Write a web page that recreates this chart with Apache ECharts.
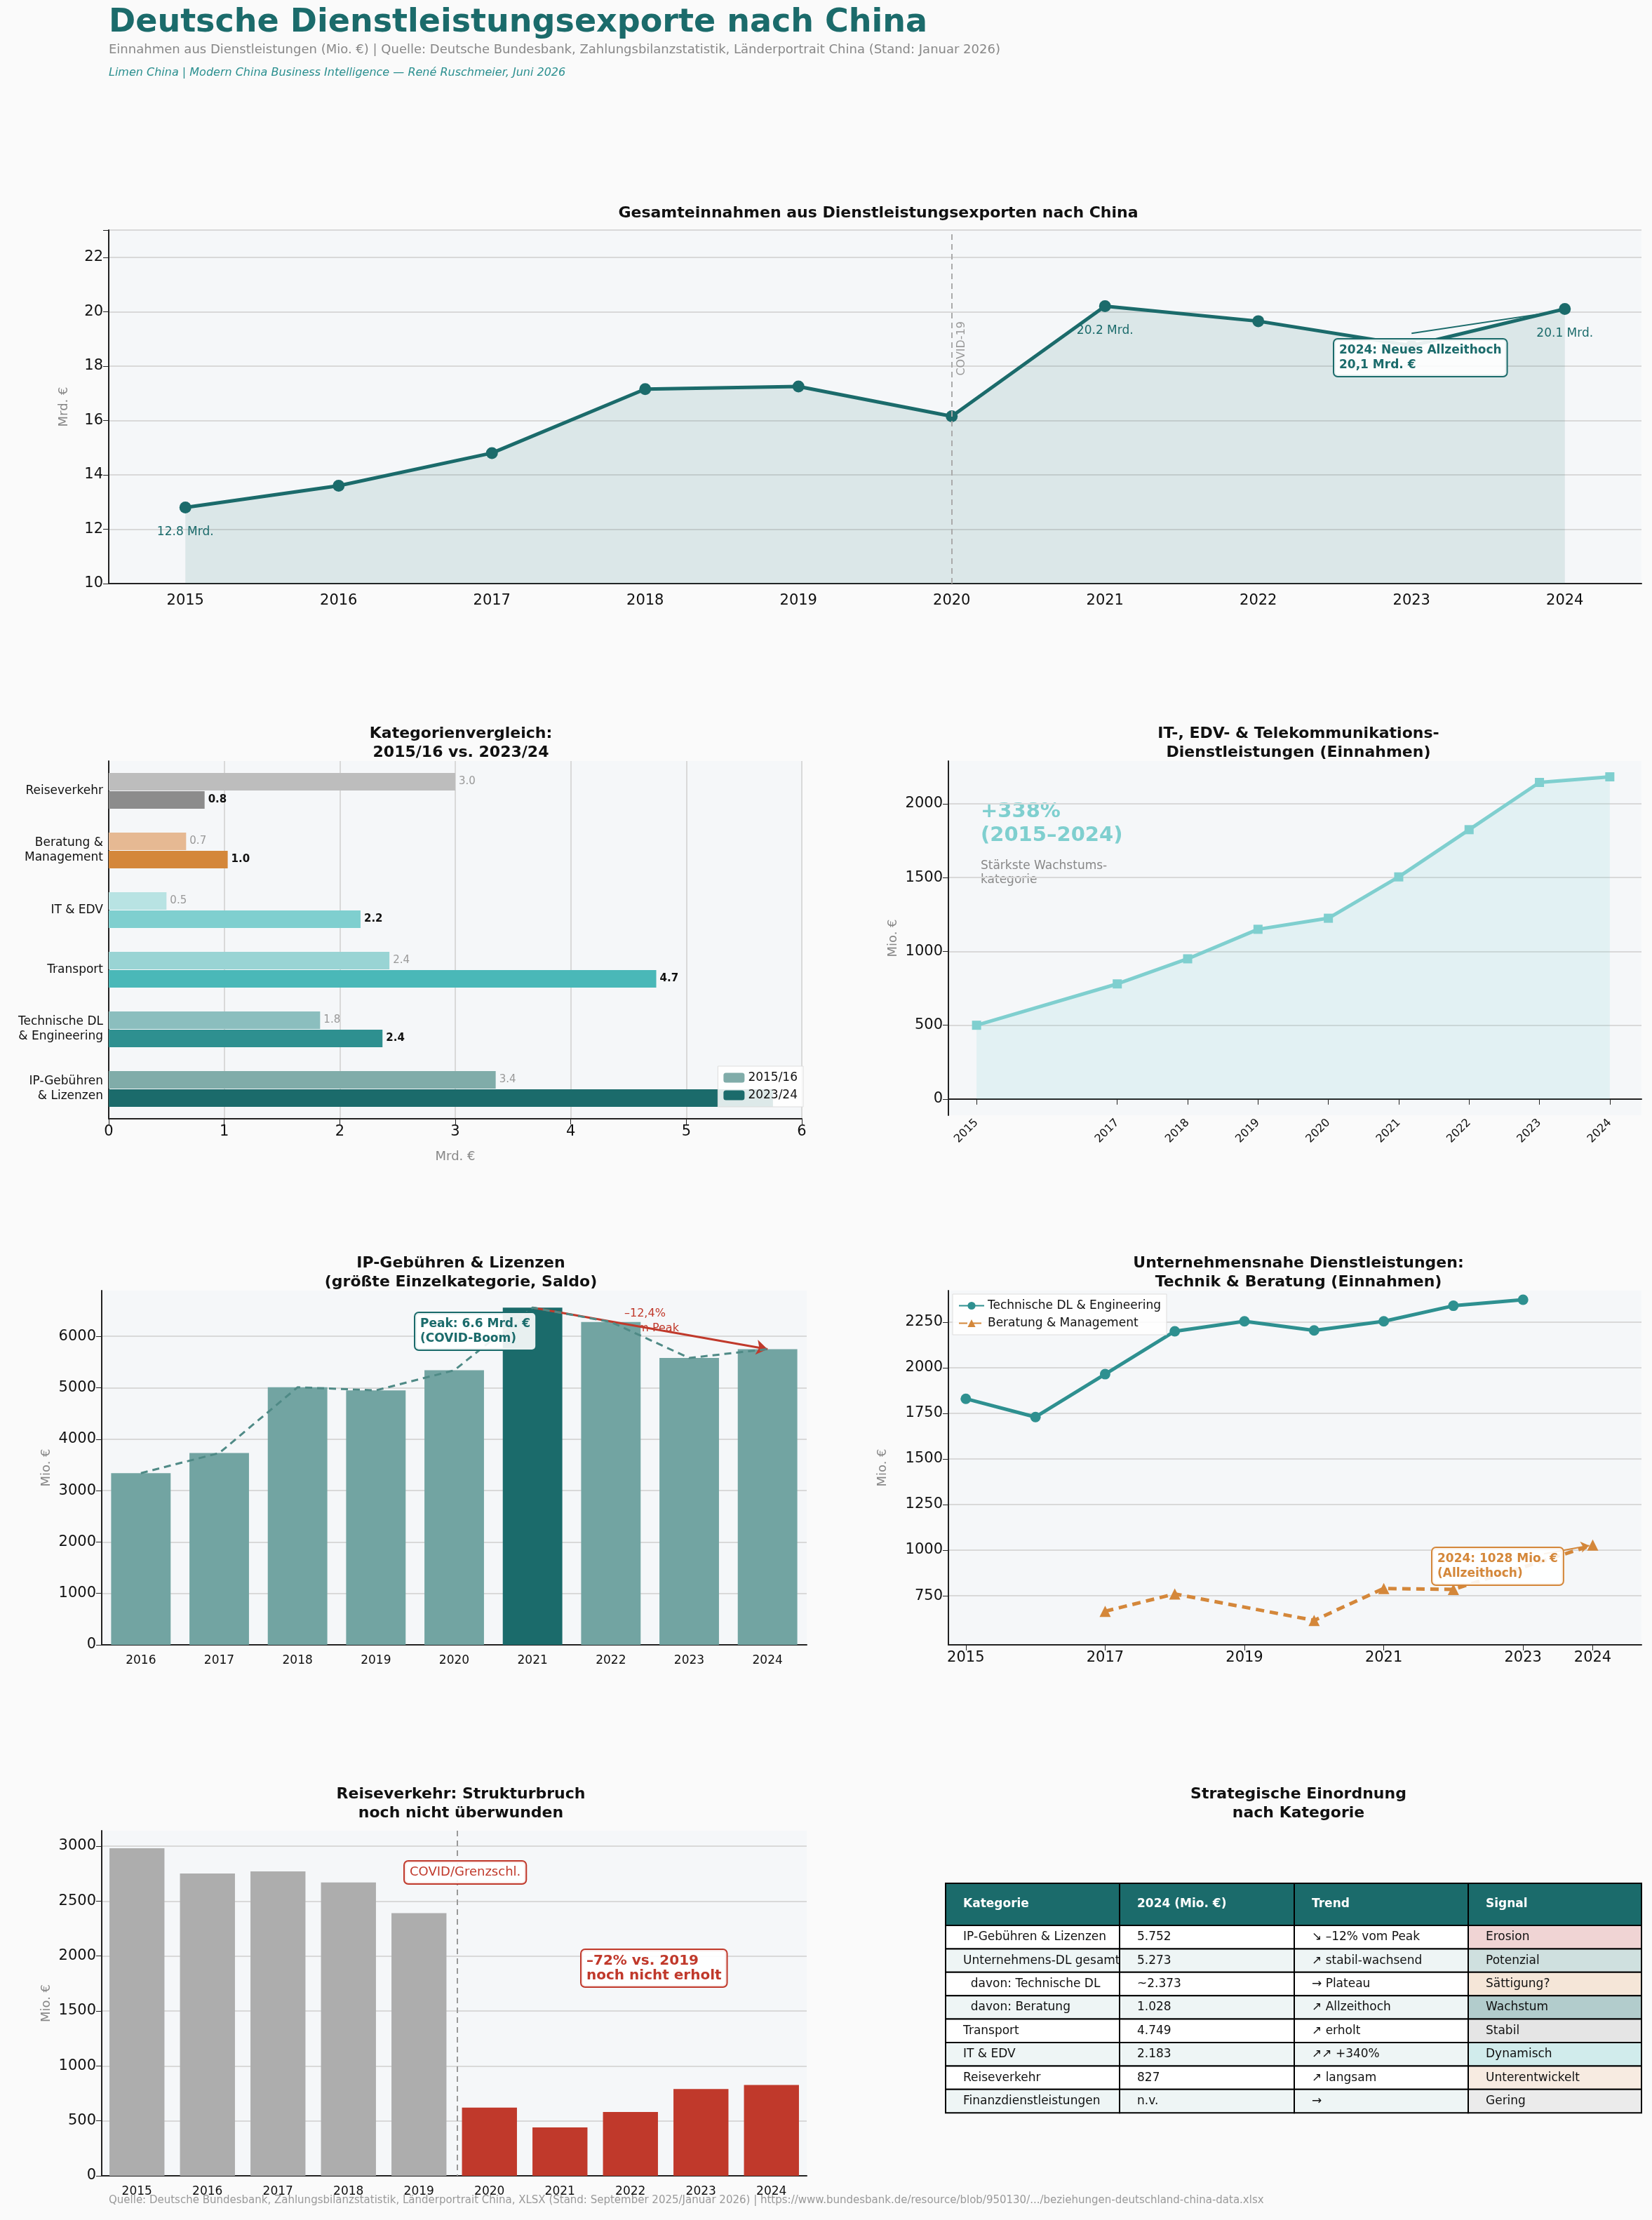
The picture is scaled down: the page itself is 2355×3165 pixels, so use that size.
<!DOCTYPE html>
<html><head><meta charset="utf-8">
<script src="https://cdn.jsdelivr.net/npm/echarts@6/dist/echarts.min.js"></script>
<style>html,body{margin:0;background:#fafafa}#c{width:2355px;height:3165px}</style>
</head><body><div id="c"></div>
<script>
// Gesamteinnahmen (Mrd. €)
var years = ['2015','2016','2017','2018','2019','2020','2021','2022','2023','2024'];
var totalVals = [12.8, 13.6, 14.8, 17.15, 17.25, 16.15, 20.2, 19.65, 18.75, 20.1];
// Kategorienvergleich (Mrd. €), von unten nach oben
var catNames = ['IP-Gebühren\n& Lizenzen', 'Technische DL\n& Engineering', 'Transport', 'IT & EDV', 'Beratung &\nManagement', 'Reiseverkehr'];
var cat1516 = [3.35, 1.83, 2.43, 0.5, 0.67, 3.0];
var cat2324 = [5.75, 2.37, 4.74, 2.18, 1.03, 0.83];
var colLight = ['#80aca9', '#8bbebe', '#99d4d4', '#b8e3e3', '#e6b993', '#bdbdbd'];
var colDark = ['#1b6b6b', '#2e9090', '#4ab8b8', '#7fcfcf', '#d4873a', '#8c8c8c'];
// IT & EDV (Mio. €)
var itYears = [2015, 2017, 2018, 2019, 2020, 2021, 2022, 2023, 2024];
var itVals = [500, 780, 950, 1150, 1225, 1505, 1825, 2145, 2183];
// IP-Gebühren (Mio. €)
var ipYears = ['2016','2017','2018','2019','2020','2021','2022','2023','2024'];
var ipVals = [3340, 3730, 5010, 4950, 5340, 6560, 6280, 5580, 5752];
// Technik & Beratung (Mio. €)
var techYears = [2015, 2016, 2017, 2018, 2019, 2020, 2021, 2022, 2023];
var techVals = [1830, 1730, 1965, 2200, 2255, 2205, 2255, 2340, 2373];
var berYears = [2017, 2018, 2020, 2021, 2022, 2024];
var berVals = [665, 760, 615, 790, 785, 1028];
// Reiseverkehr (Mio. €)
var travelYears = ['2015','2016','2017','2018','2019','2020','2021','2022','2023','2024'];
var travelVals = [2980, 2750, 2770, 2670, 2390, 620, 440, 580, 790, 827];
// Tabelle
var tabHead = ['Kategorie', '2024 (Mio. €)', 'Trend', 'Signal'];
var tabRows = [
  ['IP-Gebühren & Lizenzen', '5.752', '↘ –12% vom Peak', 'Erosion'],
  ['Unternehmens-DL gesamt', '5.273', '↗ stabil-wachsend', 'Potenzial'],
  ['  davon: Technische DL', '~2.373', '→ Plateau', 'Sättigung?'],
  ['  davon: Beratung', '1.028', '↗ Allzeithoch', 'Wachstum'],
  ['Transport', '4.749', '↗ erholt', 'Stabil'],
  ['IT & EDV', '2.183', '↗↗ +340%', 'Dynamisch'],
  ['Reiseverkehr', '827', '↗ langsam', 'Unterentwickelt'],
  ['Finanzdienstleistungen', 'n.v.', '→', 'Gering']
];
var signalCols = ['#f0d4d4', '#cfe0df', '#f5e6d8', '#b2cccc', '#e5e5e5', '#d1ecec', '#f7ebe1', '#ebebeb'];

var F = 'DejaVu Sans';
var teal = '#1b6b6b';
var gridBg = '#f5f7f9';
var axLine = {lineStyle: {color: '#222', width: 2}};
var split = {show: true, lineStyle: {color: '#d9d9d9', width: 2}};
var noSplit = {show: false};
var plain = function (v) { return String(v); };

function grid(l, t, r, b) {
  return {left: l, top: t, width: r - l, height: b - t, show: true, backgroundColor: gridBg, borderWidth: 0};
}
function ttl(text, cx, top) {
  return {text: text, left: cx, top: top, textAlign: 'center',
    textStyle: {fontFamily: F, fontSize: 22, fontWeight: 'bold', color: '#111', lineHeight: 27}};
}
function yname(n) {
  return {name: n, nameLocation: 'middle', nameGap: 70, nameTextStyle: {color: '#888', fontSize: 18, fontFamily: F}};
}
function box(x, y, text, color, bold, size) {
  return {type: 'text', left: x, top: y, z: 100, style: {text: text, fill: color, font: (bold ? 'bold ' : '') + (size || 17) + 'px ' + F,
    backgroundColor: 'rgba(255,255,255,0.9)', borderColor: color, borderWidth: 2, borderRadius: 5, padding: [5, 7], lineHeight: 21}};
}

var graphics = [
  {type: 'text', left: 155, top: 10, style: {text: 'Deutsche Dienstleistungsexporte nach China', fill: teal, font: 'bold 46px ' + F}},
  {type: 'text', left: 155, top: 62, style: {text: 'Einnahmen aus Dienstleistungen (Mio. €) | Quelle: Deutsche Bundesbank, Zahlungsbilanzstatistik, Länderportrait China (Stand: Januar 2026)', fill: '#888', font: '18px ' + F}},
  {type: 'text', left: 155, top: 96, style: {text: 'Limen China | Modern China Business Intelligence — René Ruschmeier, Juni 2026', fill: '#2a8f8f', font: 'italic 16px ' + F}},
  {type: 'text', left: 155, top: 3130, style: {text: 'Quelle: Deutsche Bundesbank, Zahlungsbilanzstatistik, Länderportrait China, XLSX (Stand: September 2025/Januar 2026) | https://www.bundesbank.de/resource/blob/950130/.../beziehungen-deutschland-china-data.xlsx', fill: '#999', font: '15px ' + F}},
  box(1900, 482, '2024: Neues Allzeithoch\n20,1 Mrd. €', teal, true, 17),
  box(590, 1870, 'Peak: 6.6 Mrd. €\n(COVID-Boom)', teal, true, 17),
  {type: 'text', left: 890, top: 1862, style: {text: '–12,4%\nvom Peak', fill: '#c0392b', font: '16px ' + F, align: 'left', lineHeight: 21}},
  box(2040, 2205, '2024: 1028 Mio. €\n(Allzeithoch)', '#d4873a', true, 17),
  box(575, 2652, 'COVID/Grenzschl.', '#c0392b', false, 18),
  box(827, 2778, '–72% vs. 2019\nnoch nicht erholt', '#c0392b', true, 20),
  {type: 'text', left: 1398, top: 1140, style: {text: '+338%\n(2015–2024)', fill: '#7fcfcf', font: 'bold 29px ' + F, lineHeight: 34}},
  {type: 'text', left: 1398, top: 1225, style: {text: 'Stärkste Wachstums-\nkategorie', fill: '#888', font: '17px ' + F, lineHeight: 20}},
  {type: 'line', z: 50, shape: {x1: 652, y1: 2610, x2: 652, y2: 3102}, style: {stroke: '#999', lineWidth: 2, lineDash: [8, 6]}}
];
// Tabelle
var cx = [1348, 1596, 1845, 2093, 2340], ty = 2685, hh = 60, rh = 33.4;
for (var c = 0; c < 4; c++) {
  graphics.push({type: 'rect', shape: {x: cx[c], y: ty, width: cx[c+1] - cx[c], height: hh}, style: {fill: teal, stroke: '#000', lineWidth: 2}});
  graphics.push({type: 'text', x: cx[c] + 25, y: ty + hh / 2, style: {text: tabHead[c], fill: '#fff', font: 'bold 17px ' + F, verticalAlign: 'middle'}});
}
tabRows.forEach(function (row, r) {
  var y = ty + hh + r * rh;
  for (var c = 0; c < 4; c++) {
    var fill = c === 3 ? signalCols[r] : (r % 2 ? '#eef5f5' : '#fff');
    graphics.push({type: 'rect', shape: {x: cx[c], y: y, width: cx[c+1] - cx[c], height: rh}, style: {fill: fill, stroke: '#000', lineWidth: 2}});
    graphics.push({type: 'text', x: cx[c] + 25, y: y + rh / 2, style: {text: row[c], fill: '#111', font: '17px ' + F, verticalAlign: 'middle'}});
  }
});

var option = {
  backgroundColor: '#fafafa',
  textStyle: {fontFamily: F},
  title: [
    ttl('Gesamteinnahmen aus Dienstleistungsexporten nach China', 1247, 286),
    ttl('Kategorienvergleich:\n2015/16 vs. 2023/24', 652, 1028),
    ttl('IT-, EDV- & Telekommunikations-\nDienstleistungen (Einnahmen)', 1846, 1028),
    ttl('IP-Gebühren & Lizenzen\n(größte Einzelkategorie, Saldo)', 652, 1783),
    ttl('Unternehmensnahe Dienstleistungen:\nTechnik & Beratung (Einnahmen)', 1846, 1783),
    ttl('Reiseverkehr: Strukturbruch\nnoch nicht überwunden', 652, 2540),
    ttl('Strategische Einordnung\nnach Kategorie', 1846, 2540)
  ],
  legend: [
    {data: ['2015/16', '2023/24'], orient: 'vertical', right: 1210, top: 1520, itemWidth: 30, itemHeight: 14,
      backgroundColor: 'rgba(255,255,255,0.85)', borderColor: '#ddd', borderWidth: 1, padding: 8,
      textStyle: {fontSize: 17, fontFamily: F, color: '#111'}},
    {data: ['Technische DL & Engineering', 'Beratung & Management'], orient: 'vertical', left: 1358, top: 1845,
      backgroundColor: 'rgba(255,255,255,0.85)', borderColor: '#ddd', borderWidth: 1, padding: 8, itemWidth: 36,
      textStyle: {fontSize: 17, fontFamily: F, color: '#111'}}
  ],
  grid: [
    grid(155, 328, 2340, 832),
    grid(155, 1085, 1143, 1595),
    grid(1352, 1085, 2340, 1590),
    grid(145, 1840, 1150, 2345),
    grid(1352, 1840, 2340, 2345),
    grid(145, 2610, 1150, 3102)
  ],
  xAxis: [
    {gridIndex: 0, type: 'category', data: years, axisLine: axLine, axisTick: {alignWithLabel: true, length: 8, lineStyle: {width: 2, color: '#222'}},
      axisLabel: {fontSize: 21, color: '#111', margin: 14}},
    {gridIndex: 1, type: 'value', min: 0, max: 6, interval: 1, axisLine: {show: true, lineStyle: {color: '#222', width: 2}}, axisTick: {show: true, length: 8},
      axisLabel: {fontSize: 21, color: '#111'}, splitLine: split, name: 'Mrd. €', nameLocation: 'middle', nameGap: 45, nameTextStyle: {color: '#888', fontSize: 18}},
    {gridIndex: 2, type: 'value', min: 2014.6, max: 2024.45, axisLine: axLine, splitLine: noSplit,
      axisTick: {show: true, length: 8, customValues: itYears},
      axisLabel: {fontSize: 16, color: '#111', rotate: 45, customValues: itYears, formatter: plain}},
    {gridIndex: 3, type: 'category', data: ipYears, axisLine: axLine, axisTick: {alignWithLabel: true, length: 8},
      axisLabel: {fontSize: 17, color: '#111', margin: 14}},
    {gridIndex: 4, type: 'value', min: 2014.75, max: 2024.7, axisLine: axLine, splitLine: noSplit,
      axisTick: {show: true, length: 8, customValues: [2015, 2017, 2019, 2021, 2023, 2024]},
      axisLabel: {fontSize: 21, color: '#111', customValues: [2015, 2017, 2019, 2021, 2023, 2024], formatter: plain}},
    {gridIndex: 5, type: 'category', data: travelYears, axisLine: axLine, axisTick: {alignWithLabel: true, length: 8},
      axisLabel: {fontSize: 17, color: '#111', margin: 14}}
  ],
  yAxis: [
    Object.assign({gridIndex: 0, type: 'value', min: 10, max: 23, interval: 2, axisLine: {show: true, lineStyle: {color: '#222', width: 2}}, axisTick: {show: true, length: 8},
      axisLabel: {fontSize: 21, color: '#111', formatter: function (v) { return v % 2 === 0 ? v : ''; }}, splitLine: split}, yname('Mrd. €'), {nameGap: 55}),
    {gridIndex: 1, type: 'category', data: catNames, axisLine: axLine, axisTick: {length: 8, alignWithLabel: true},
      axisLabel: {fontSize: 17, color: '#111', lineHeight: 21}},
    Object.assign({gridIndex: 2, type: 'value', min: -110, max: 2290, axisLine: {show: true, lineStyle: {color: '#222', width: 2}},
      axisTick: {show: true, length: 8, customValues: [0, 500, 1000, 1500, 2000]},
      axisLabel: {fontSize: 21, color: '#111', customValues: [0, 500, 1000, 1500, 2000], formatter: plain}, splitLine: split}, yname('Mio. €')),
    Object.assign({gridIndex: 3, type: 'value', min: 0, max: 6890, axisLine: {show: true, lineStyle: {color: '#222', width: 2}},
      axisTick: {show: true, length: 8, customValues: [0, 1000, 2000, 3000, 4000, 5000, 6000]},
      axisLabel: {fontSize: 21, color: '#111', customValues: [0, 1000, 2000, 3000, 4000, 5000, 6000], formatter: plain}, splitLine: split}, yname('Mio. €')),
    Object.assign({gridIndex: 4, type: 'value', min: 481, max: 2423, axisLine: {show: true, lineStyle: {color: '#222', width: 2}},
      axisTick: {show: true, length: 8, customValues: [750, 1000, 1250, 1500, 1750, 2000, 2250]},
      axisLabel: {fontSize: 21, color: '#111', customValues: [750, 1000, 1250, 1500, 1750, 2000, 2250], formatter: plain}, splitLine: split}, yname('Mio. €'), {nameGap: 85}),
    Object.assign({gridIndex: 5, type: 'value', min: 0, max: 3140, axisLine: {show: true, lineStyle: {color: '#222', width: 2}},
      axisTick: {show: true, length: 8, customValues: [0, 500, 1000, 1500, 2000, 2500, 3000]},
      axisLabel: {fontSize: 21, color: '#111', customValues: [0, 500, 1000, 1500, 2000, 2500, 3000], formatter: plain}, splitLine: split}, yname('Mio. €'))
  ],
  series: [
    {type: 'line', xAxisIndex: 0, yAxisIndex: 0, symbol: 'circle', symbolSize: 17, lineStyle: {color: teal, width: 5}, itemStyle: {color: teal},
      areaStyle: {color: 'rgba(27,107,107,0.17)', origin: 'start'},
      data: totalVals.map(function (v, i) {
        var lab = (i === 0 || i === 6 || i === 9) ? {show: true, position: 'bottom', distance: 18, color: teal, fontSize: 17, formatter: v.toFixed(1) + ' Mrd.'} : {show: false};
        return {value: v, label: lab};
      }),
      markLine: {silent: true, symbol: ['none', 'none'], data: [
        {xAxis: '2020', lineStyle: {color: '#aaa', type: [8, 6], width: 2}, label: {show: true, position: 'insideEndTop', formatter: 'COVID-19', color: '#999', fontSize: 16, distance: [130, -22]}},
        [{coord: ['2023', 19.2], lineStyle: {color: teal, width: 2, type: 'solid'}, label: {show: false}}, {coord: ['2024', 20.05]}]
      ]}},
    {name: '2015/16', type: 'bar', xAxisIndex: 1, yAxisIndex: 1, barWidth: 25, barGap: '4%', itemStyle: {color: '#80aca9'},
      label: {show: true, position: 'right', fontSize: 15, color: '#999', formatter: function (p) { return p.value.toFixed(1); }},
      data: cat1516.map(function (v, i) { return {value: v, itemStyle: {color: colLight[i]}}; })},
    {name: '2023/24', type: 'bar', xAxisIndex: 1, yAxisIndex: 1, barWidth: 25, itemStyle: {color: teal},
      label: {show: true, position: 'right', fontSize: 15, fontWeight: 'bold', color: '#111', formatter: function (p) { return p.dataIndex === 0 ? '' : p.value.toFixed(1); }},
      data: cat2324.map(function (v, i) { return {value: v, itemStyle: {color: colDark[i]}}; })},
    {type: 'line', xAxisIndex: 2, yAxisIndex: 2, symbol: 'rect', symbolSize: 13, lineStyle: {color: '#7fcfcf', width: 5}, itemStyle: {color: '#7fcfcf'},
      areaStyle: {color: 'rgba(127,207,207,0.22)', origin: 0},
      data: itYears.map(function (y, i) { return [y, itVals[i]]; })},
    {type: 'bar', xAxisIndex: 3, yAxisIndex: 3, barCategoryGap: '24%',
      data: ipVals.map(function (v, i) { return {value: v, itemStyle: {color: ipYears[i] === '2021' ? teal : '#72a4a2'}}; }),
      markLine: {silent: true, symbol: ['none', 'arrow'], symbolSize: 16, label: {show: false}, lineStyle: {color: '#c0392b', width: 3, type: 'solid'},
        data: [[{coord: ['2021', 6560]}, {coord: ['2024', 5752]}]]}},
    {type: 'line', xAxisIndex: 3, yAxisIndex: 3, symbol: 'none', lineStyle: {color: '#4f8a86', width: 3, type: [10, 7]}, data: ipVals, z: 5},
    {name: 'Technische DL & Engineering', type: 'line', xAxisIndex: 4, yAxisIndex: 4, symbol: 'circle', symbolSize: 15,
      lineStyle: {color: '#2e9090', width: 5}, itemStyle: {color: '#2e9090'},
      data: techYears.map(function (y, i) { return [y, techVals[i]]; })},
    {name: 'Beratung & Management', type: 'line', xAxisIndex: 4, yAxisIndex: 4, symbol: 'triangle', symbolSize: 16,
      lineStyle: {color: '#d4873a', width: 5, type: [12, 8]}, itemStyle: {color: '#d4873a'},
      data: berYears.map(function (y, i) { return [y, berVals[i]]; }),
      markLine: {silent: true, symbol: ['none', 'arrow'], symbolSize: 12, label: {show: false}, lineStyle: {color: '#d4873a', width: 2, type: 'solid'},
        data: [[{coord: [2023.3, 980]}, {coord: [2023.95, 1025]}]]}},
    {type: 'bar', xAxisIndex: 5, yAxisIndex: 5, barCategoryGap: '22%',
      data: travelVals.map(function (v, i) { return {value: v, itemStyle: {color: i >= 5 ? '#c0392b' : '#adadad'}}; })}
  ],
  graphic: graphics
};
echarts.init(document.getElementById('c')).setOption(option);
</script></body></html>
